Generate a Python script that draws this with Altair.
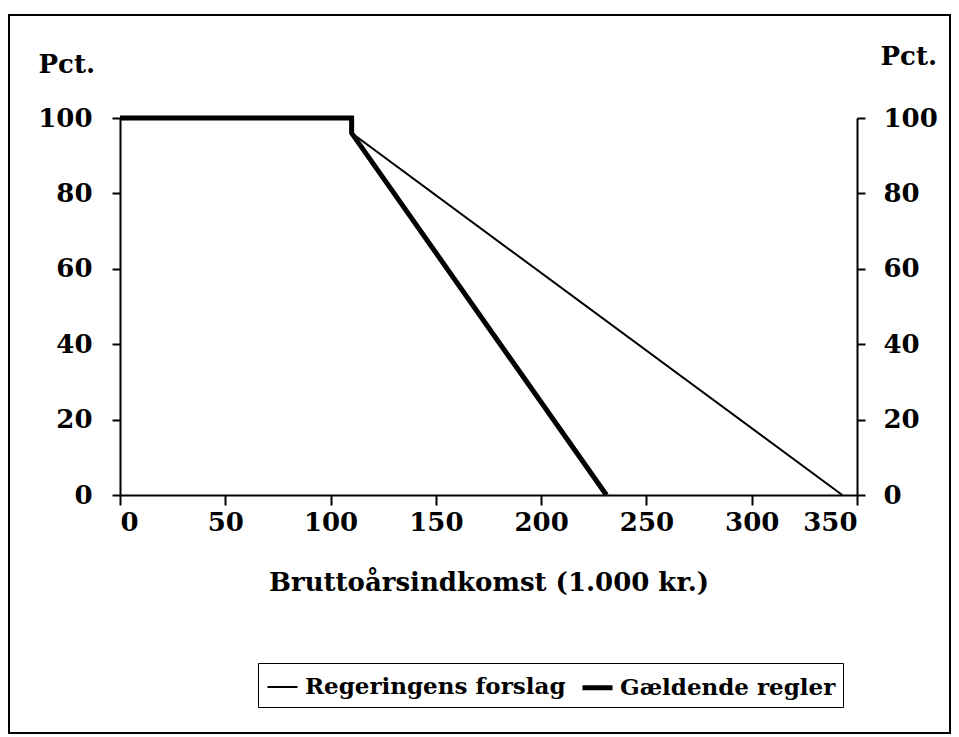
import altair as alt
import pandas as pd

# ---- data ----
series_names = ["Regeringens forslag", "Gældende regler"]
income_forslag = [0, 110, 110, 343]
pct_forslag = [100, 100, 96, 0]
income_gaeldende = [0, 110, 110, 231]
pct_gaeldende = [100, 100, 96, 0]
x_ticks = [0, 50, 100, 150, 200, 250, 300, 350]
y_ticks = [0, 20, 40, 60, 80, 100]

rows = []
for i, (x, y) in enumerate(zip(income_forslag, pct_forslag)):
    rows.append({"income": x, "pct": y, "series": series_names[0], "step": i})
for i, (x, y) in enumerate(zip(income_gaeldende, pct_gaeldende)):
    rows.append({"income": x, "pct": y, "series": series_names[1], "step": i})
df = pd.DataFrame(rows)

FONT = "DejaVu Serif"

xscale = alt.Scale(domain=[0, 350], nice=False, zero=False)
yscale = alt.Scale(domain=[0, 100], nice=False)

lines = alt.Chart(df).mark_line(color="black", strokeCap="butt", strokeJoin="miter").encode(
    x=alt.X("income:Q", scale=xscale,
            axis=alt.Axis(values=x_ticks, title="Bruttoårsindkomst (1.000 kr.)",
                          tickSize=10, labelPadding=4, titleY=95,
                          titleBaseline="alphabetic", titleFontSize=26)),
    y=alt.Y("pct:Q", scale=yscale,
            axis=alt.Axis(orient="left", values=y_ticks, title="Pct.", titleAngle=0,
                          titleX=-82, titleY=-46, titleAlign="left",
                          titleBaseline="alphabetic", tickSize=8, labelPadding=20)),
    strokeWidth=alt.StrokeWidth("series:N",
                                scale=alt.Scale(domain=series_names, range=[2, 5]),
                                legend=alt.Legend(title=None, orient="none",
                                                  legendX=138, legendY=545,
                                                  direction="horizontal", columns=2,
                                                  symbolType="stroke", symbolSize=900,
                                                  symbolStrokeColor="black",
                                                  labelFont=FONT, labelFontWeight="bold",
                                                  labelFontSize=23, labelColor="black",
                                                  labelLimit=0,
                                                  labelOffset=5, columnPadding=6,
                                                  strokeColor="black", padding=7)),
    order=alt.Order("step:Q"),
)

right_axis = alt.Chart(df).mark_line(strokeOpacity=0).encode(
    x=alt.X("income:Q", scale=xscale),
    y=alt.Y("pct:Q", scale=yscale,
            axis=alt.Axis(orient="right", values=y_ticks, title="Pct.", titleAngle=0,
                          titleX=23, titleY=-54, titleAlign="left",
                          titleBaseline="alphabetic", tickSize=8, labelPadding=18)),
    detail="series:N",
)

frame = alt.Chart(pd.DataFrame({"a": [0]})).mark_rect(
    fillOpacity=0, stroke="black", strokeWidth=2
).encode(
    x=alt.value(-111), x2=alt.value(830), y=alt.value(-103), y2=alt.value(615)
)

chart = alt.layer(frame, lines, right_axis).resolve_scale(y="independent").properties(
    width=737, height=377,
    autosize=alt.AutoSizeParams(type="none"),
    padding={"left": 112, "top": 110, "right": 94, "bottom": 242},
    background="white",
).configure_view(stroke=None).configure_axis(
    grid=False, domainColor="black", domainWidth=2, tickColor="black", tickWidth=2,
    labelFont=FONT, labelFontWeight="bold", labelFontSize=26, labelColor="black",
    titleFont=FONT, titleFontWeight="bold", titleFontSize=26, titleColor="black",
)

chart.save("out.html", embed_options={"renderer": "svg", "actions": False})
